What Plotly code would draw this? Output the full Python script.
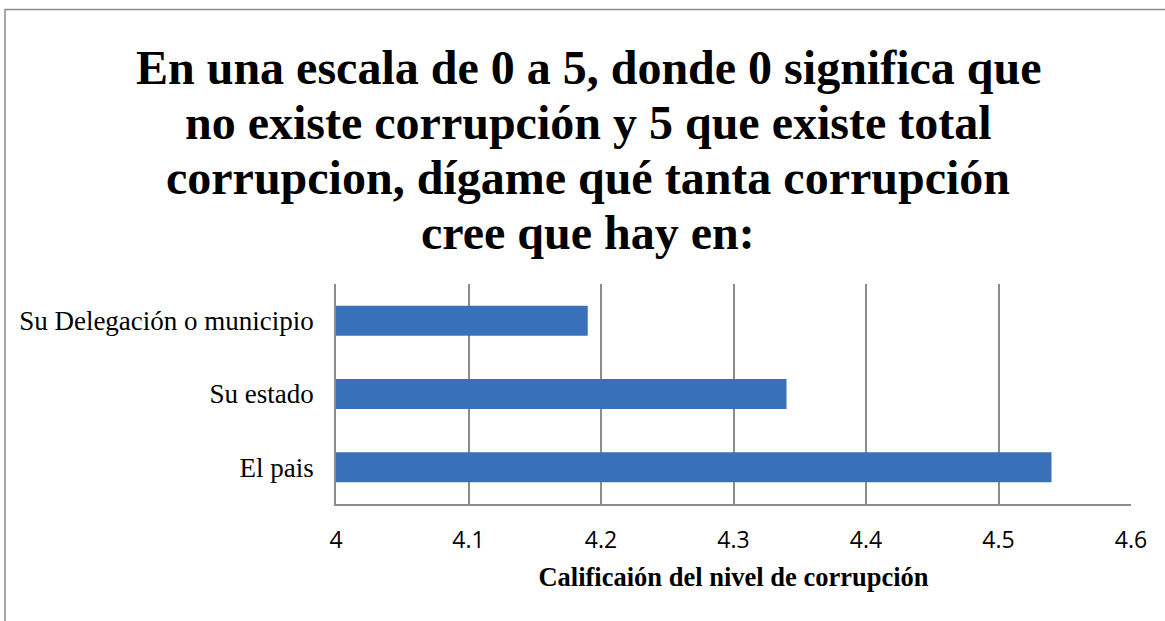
import plotly.graph_objects as go

# values
categories = ["El pais", "Su estado", "Su Delegación o municipio"]
scores = [4.54, 4.34, 4.19]
tick_values = [4, 4.1, 4.2, 4.3, 4.4, 4.5, 4.6]
tick_labels = ["4", "4.1", "4.2", "4.3", "4.4", "4.5", "4.6"]

TITLE_LINES = [
    "En una escala de 0 a 5, donde 0 significa que",
    "no existe corrupción y 5 que existe total",
    "corrupcion, dígame qué tanta corrupción",
    "cree que hay en:",
]
SERIF = "Liberation Serif, Times New Roman, serif"
GRID = "#8c8c8c"

# pixel positions of the plot area in the reference
PLOT_L, PLOT_R, PLOT_T, PLOT_B = 336, 1131, 284, 504
PW, PH = PLOT_R - PLOT_L, PLOT_B - PLOT_T


def px_x(x):
    return (x - PLOT_L) / PW


def px_y(y):
    return (PLOT_B - y) / PH


fig = go.Figure(
    go.Bar(
        x=[s - 4 for s in scores],
        y=categories,
        base=4,
        orientation="h",
        marker=dict(color="#3870ba", line=dict(width=0)),
        customdata=scores,
        hovertemplate="%{y}: %{customdata}<extra></extra>",
    )
)

title_centers = [67, 122, 177, 232]
annotations = [
    dict(
        text=f"<b>{line}</b>",
        xref="paper",
        yref="paper",
        x=px_x(588),
        y=px_y(yc),
        xanchor="center",
        yanchor="middle",
        showarrow=False,
        font=dict(family=SERIF, size=48, color="black"),
    )
    for line, yc in zip(TITLE_LINES, title_centers)
]

fig.update_layout(
    width=1165,
    height=621,
    margin=dict(l=PLOT_L, r=1165 - PLOT_R, t=PLOT_T, b=621 - PLOT_B),
    paper_bgcolor="white",
    plot_bgcolor="white",
    showlegend=False,
    bargap=0.59,
    annotations=annotations,
    xaxis=dict(
        range=[4, 4.6],
        tickvals=tick_values,
        ticktext=tick_labels,
        showgrid=True,
        gridcolor=GRID,
        gridwidth=1.5,
        zeroline=False,
        showline=True,
        linecolor=GRID,
        linewidth=1.5,
        ticks="",
        ticklabelstandoff=15,
        tickfont=dict(family="Open Sans, Noto Sans, sans-serif", size=23, color="black"),
        title=dict(
            text="<b>Calificaión del nivel de corrupción</b>",
            font=dict(family=SERIF, size=26.5, color="black"),
            standoff=13,
        ),
    ),
    yaxis=dict(
        showgrid=False,
        showline=True,
        linecolor=GRID,
        linewidth=1.5,
        ticks="",
        ticklabelstandoff=15,
        tickfont=dict(family=SERIF, size=27, color="black"),
    ),
    shapes=[
        dict(
            type="rect",
            xref="paper",
            yref="paper",
            x0=px_x(5),
            x1=px_x(1175),
            y0=px_y(640),
            y1=px_y(9.5),
            line=dict(color=GRID, width=1.5),
            layer="below",
        )
    ],
)

# drop the default body margin so the figure sits at the page origin
fig.write_html(
    "out.html",
    config={"displayModeBar": False},
    post_script="document.body.style.margin = '0px';",
)
